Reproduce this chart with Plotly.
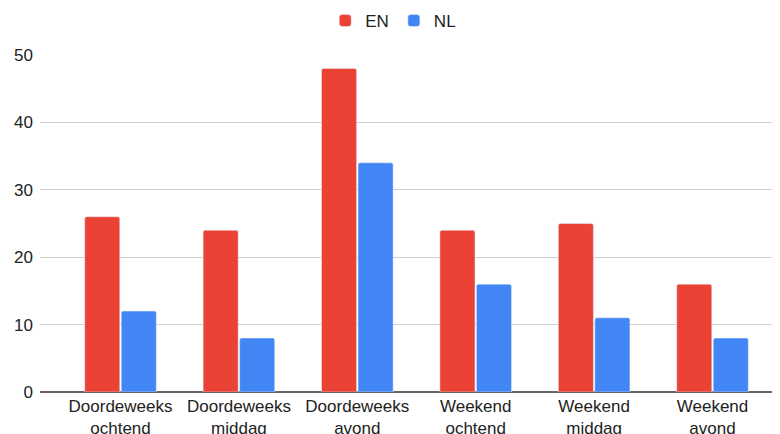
import plotly.graph_objects as go

categories = ["Doordeweeks<br>ochtend", "Doordeweeks<br>middag", "Doordeweeks<br>avond",
              "Weekend<br>ochtend", "Weekend<br>middag", "Weekend<br>avond"]
en_values = [26, 24, 48, 24, 25, 16]
nl_values = [12, 8, 34, 16, 11, 8]
y_ticks = [0, 10, 20, 30, 40, 50]

fig = go.Figure()
fig.add_trace(go.Bar(name="EN", x=categories, y=en_values, marker_color="#ea4335"))
fig.add_trace(go.Bar(name="NL", x=categories, y=nl_values, marker_color="#4285f4"))

# the page body adds an 8px offset, so the figure is sized to end at the window edge
fig.update_layout(
    width=772, height=426,
    margin=dict(l=32, r=0, t=47, b=42, autoexpand=False),
    paper_bgcolor="white", plot_bgcolor="white",
    font=dict(family="Liberation Sans, Arial, sans-serif", size=17, color="#222222"),
    barmode="group", bargap=0.383, bargroupgap=0.04, barcornerradius=2,
    showlegend=True,
    legend=dict(orientation="h", x=0.499, xanchor="center", xref="container",
                y=1 - 13 / 426, yanchor="middle", yref="container",
                font=dict(size=17, color="#222222"), itemwidth=30),
    xaxis=dict(range=[-0.68, 5.57], showgrid=False, showline=False, ticks="",
               automargin=False, ticklabelstandoff=2,
               tickfont=dict(size=17, color="#222222"), fixedrange=True),
    yaxis=dict(range=[0, 50], tickvals=y_ticks, showgrid=True, gridcolor="#d0d0d0",
               gridwidth=1, zeroline=True, zerolinecolor="#666666", zerolinewidth=2,
               showline=False, ticks="", ticklabelstandoff=6, automargin=False,
               tickfont=dict(size=17, color="#222222")),
)
fig.write_html("out.html")
